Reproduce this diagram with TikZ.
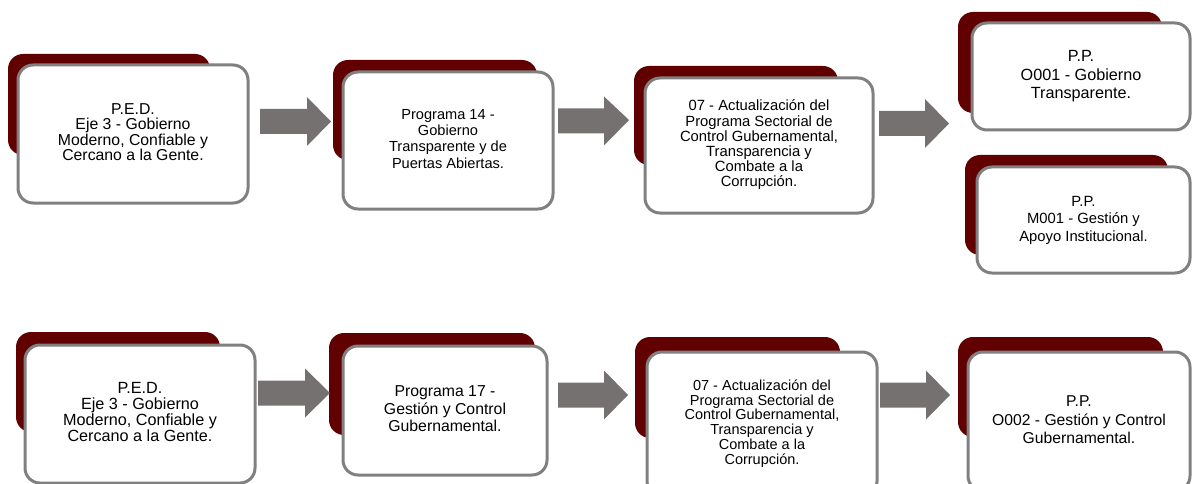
\documentclass[tikz,border=0pt]{standalone}
\usepackage{fontspec}
\setmainfont{Liberation Sans}
\usepackage{graphicx}
\definecolor{darkred}{RGB}{96,0,0}
\definecolor{bordergray}{RGB}{128,128,128}
\definecolor{arrowgray}{RGB}{118,113,113}
\newcommand\tx[4]{\scalebox{#1}[1]{\fontsize{#2}{#3}\selectfont\begin{tabular}{@{}c@{}}#4\end{tabular}}}
\newcommand\barrow[5]{%
  \fill[arrowgray] (#1,#4-12.5) -- (#2,#4-12.5) -- (#2,#4-24.5) -- (#3,#5) -- (#2,#4+24.5) -- (#2,#4+12.5) -- (#1,#4+12.5) -- cycle;}
\tikzset{
  backbox/.style={rectangle, rounded corners=15pt, fill=darkred, inner sep=0pt},
  frontbox/.style={rectangle, rounded corners=15pt, fill=white, draw=bordergray, line width=3pt, inner sep=0pt, text=black},
}
\begin{document}
\begin{tikzpicture}[x=1pt,y=-1pt]
\useasboundingbox (0,0) rectangle (1192,484);
\clip (0,0) rectangle (1192,484);
% Row 1
\node[backbox, minimum width=202, minimum height=101] (A1b) at (109,104.5) {};
\node[frontbox, minimum width=230, minimum height=138] (A1) at (133,134) {\tx{1}{15.8}{13.6}{P.E.D.\\Eje 3 - Gobierno\\Moderno, Confiable y\\Cercano a la Gente.}};
\node[backbox, minimum width=204, minimum height=100] (B1b) at (435,110) {};
\node[frontbox, minimum width=210, minimum height=137] (B1) at (448,140.5) {\tx{1}{14.6}{16.2}{Programa 14 -\\Gobierno\\Transparente y de\\Puertas Abiertas.}};
\node[backbox, minimum width=204, minimum height=99] (C1b) at (736,115.5) {};
\node[frontbox, minimum width=228, minimum height=135] (C1) at (759,145.5) {\tx{1}{14.8}{14.6}{07 - Actualización del\\Programa Sectorial de\\Control Gubernamental,\\Transparencia y\\Combate a la\\Corrupción.}};
\node[backbox, minimum width=204, minimum height=101] (D1b) at (1060,62.5) {};
\node[frontbox, minimum width=218, minimum height=107] (D1) at (1081,76.5) {\tx{1}{16.2}{18.3}{P.P.\\O001 - Gobierno\\Transparente.}};
\node[backbox, minimum width=203, minimum height=100] (D2b) at (1066.5,205) {};
\node[frontbox, minimum width=213, minimum height=106] (D2) at (1083.5,220) {\tx{1}{14.8}{17.5}{P.P.\\M001 - Gestión y\\Apoyo Institucional.}};
% Row 2
\node[backbox, minimum width=204, minimum height=100] (A2b) at (118,382) {};
\node[frontbox, minimum width=230, minimum height=138] (A2) at (140,414) {\tx{1}{16.2}{13.9}{P.E.D.\\Eje 3 - Gobierno\\Moderno, Confiable y\\Cercano a la Gente.}};
\node[backbox, minimum width=206, minimum height=102] (B2b) at (432,384) {};
\node[frontbox, minimum width=204, minimum height=129] (B2) at (445,410.5) {\tx{1}{15.8}{17.7}{Programa 17 -\\Gestión y Control\\Gubernamental.}};
\node[backbox, minimum width=205, minimum height=101] (C2b) at (737.5,387.5) {};
\node[frontbox, minimum width=230, minimum height=144] (C2) at (762,424) {\tx{1}{14.5}{13.9}{07 - Actualización del\\Programa Sectorial de\\Control Gubernamental,\\Transparencia y\\Combate a la\\Corrupción.}};
\node[backbox, minimum width=205, minimum height=100] (D3b) at (1060.5,387) {};
\node[frontbox, minimum width=222, minimum height=139] (D3) at (1079,421.5) {\tx{1}{15.7}{18.3}{P.P.\\O002 - Gestión y Control\\Gubernamental.}};
% Arrows
\barrow{260}{307}{331}{121.5}{121.5}
\barrow{558}{604}{629}{121}{120}
\barrow{879}{925}{949}{123.5}{123.5}
\barrow{258}{305}{330}{393}{393}
\barrow{558}{604}{628}{395}{395}
\barrow{880}{926}{950}{395}{395}
\end{tikzpicture}
\end{document}
